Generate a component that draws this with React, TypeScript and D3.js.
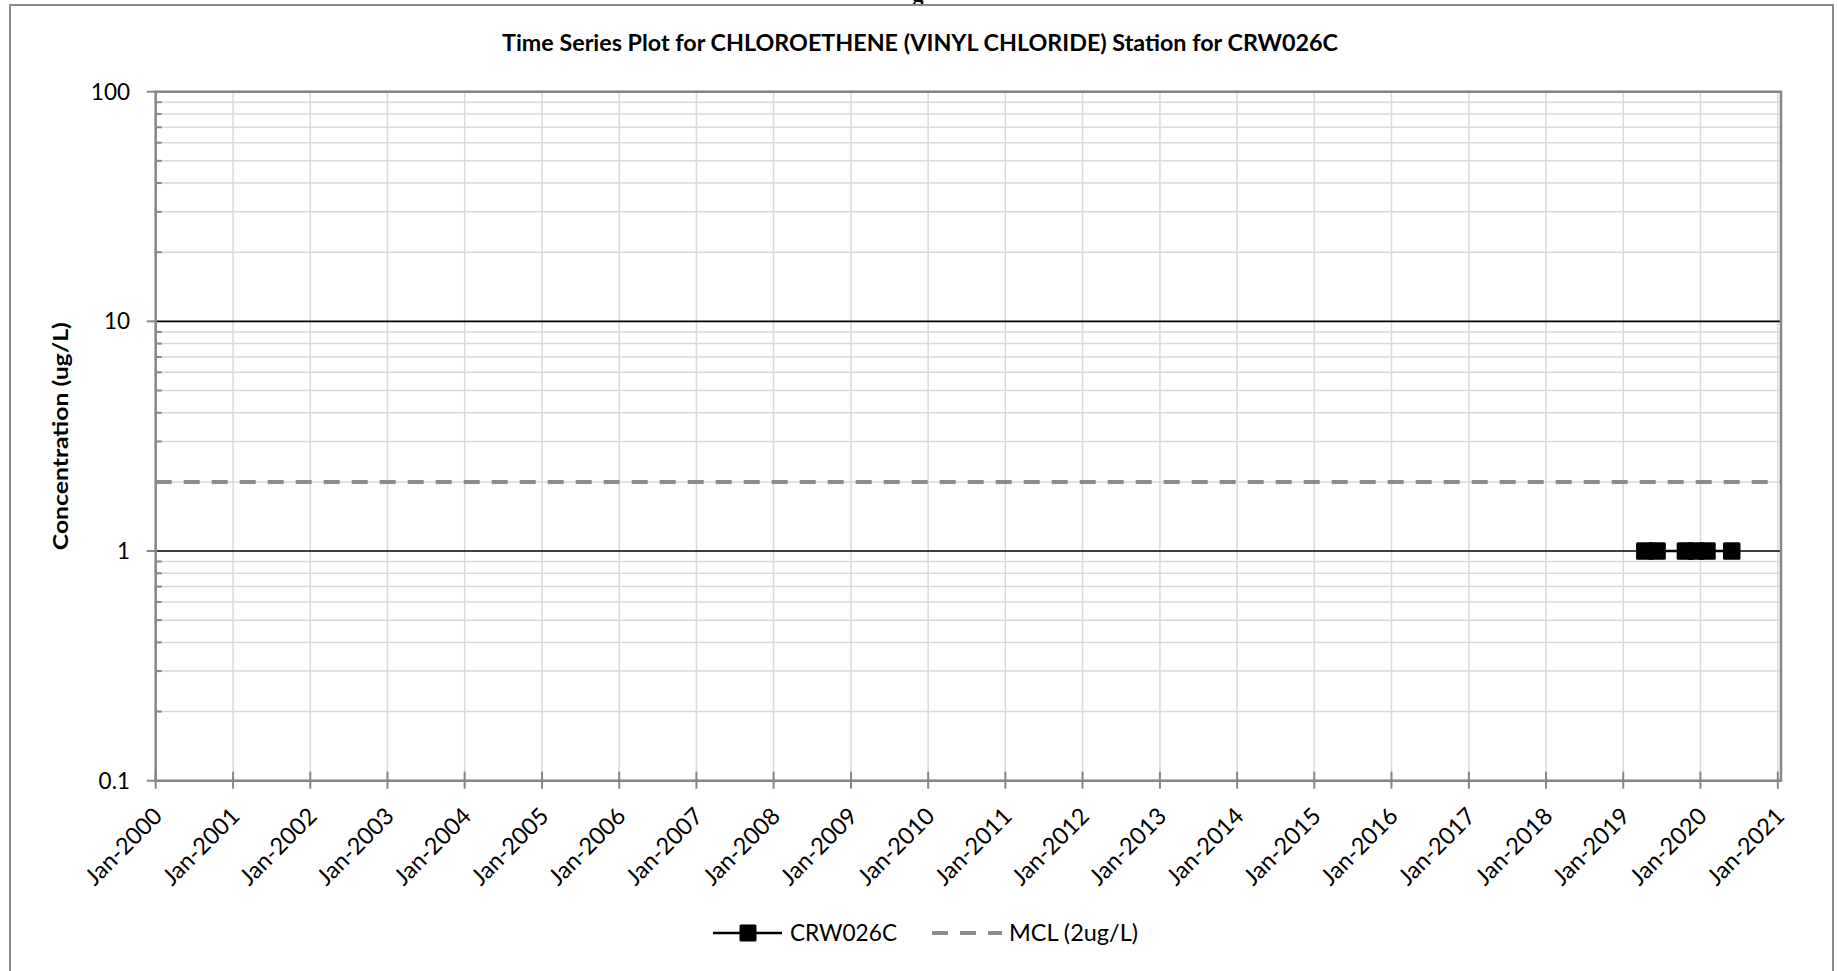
import React from "react";
import * as d3 from "d3";

const chartTitle = "Time Series Plot for CHLOROETHENE (VINYL CHLORIDE) Station for CRW026C";
const yAxisTitle = "Concentration (ug/L)";
const seriesName = "CRW026C";
const mclName = "MCL (2ug/L)";

const sampleDates = ["2019-04-13", "2019-06-10", "2019-10-22", "2019-12-10", "2020-02-01", "2020-05-28"];
const sampleValues = [1, 1, 1, 1, 1, 1];
const mclValue = 2;

const yMajorTicks = [0.1, 1, 10, 100];
const yTickLabels = ["0.1", "1", "10", "100"];
const xTickYears = [2000, 2001, 2002, 2003, 2004, 2005, 2006, 2007, 2008, 2009, 2010, 2011, 2012, 2013, 2014, 2015, 2016, 2017, 2018, 2019, 2020, 2021];
const xDomainDates = ["2000-01-01", "2021-01-16"];
const yDomain = [0.1, 100];

const W = 1837;
const H = 971;
const M = { left: 155.7, right: 1781, top: 91.7, bottom: 780.7 };
const FONT = "Lato, 'Open Sans', sans-serif";
const GRID = "#d9d9d9";
const AXIS = "#868686";
const MCL_COLOR = "#8c8c8c";

export default function App() {
  const parse = d3.utcParse("%Y-%m-%d");
  const fmt = d3.utcFormat("%b-%Y");
  const x = d3
    .scaleUtc()
    .domain([parse(xDomainDates[0])!, parse(xDomainDates[1])!])
    .range([M.left, M.right]);
  const y = d3.scaleLog().domain(yDomain).range([M.bottom, M.top]);

  const minorVals: number[] = [];
  yMajorTicks.slice(0, -1).forEach((d) => {
    for (let k = 2; k <= 9; k++) minorVals.push(d * k);
  });
  const xTicks = xTickYears.map((yr) => new Date(Date.UTC(yr, 0, 1)));

  const pts = sampleDates.map((d, i) => ({ d: parse(d)!, v: sampleValues[i] }));
  const line = d3
    .line<{ d: Date; v: number }>()
    .x((p) => x(p.d))
    .y((p) => y(p.v));

  const mk = 17.5;

  return (
    <svg
      width={W}
      height={H}
      style={{ position: "absolute", left: 0, top: 0, background: "#fff" }}
      fontFamily={FONT}
    >
      <rect x={0} y={0} width={W} height={H} fill="#fff" />
      <text x={918} y={1} fontFamily="'Liberation Serif', serif" fontWeight="bold" fontSize={22} textAnchor="middle">g</text>
      <rect x={10} y={5} width={1823} height={1000} fill="none" stroke="#8a8a8a" strokeWidth={2} />

      <text x={920} y={51} fontSize={22} fontWeight="bold" textAnchor="middle" textLength={836} lengthAdjust="spacingAndGlyphs">
        {chartTitle}
      </text>

      {/* vertical gridlines */}
      {xTicks.map((t, i) => (
        <line key={"vg" + i} x1={x(t)} x2={x(t)} y1={M.top} y2={M.bottom} stroke={GRID} strokeWidth={1.5} />
      ))}
      {/* minor horizontal gridlines */}
      {minorVals.map((v, i) => (
        <line key={"mg" + i} x1={M.left} x2={M.right} y1={y(v)} y2={y(v)} stroke={GRID} strokeWidth={1.5} />
      ))}
      {/* major horizontal gridlines */}
      {yMajorTicks.map((v, i) => (
        <line key={"Mg" + i} x1={M.left} x2={M.right} y1={y(v)} y2={y(v)} stroke="#000" strokeWidth={1.6} />
      ))}

      {/* MCL line */}
      <line
        x1={M.left}
        x2={M.right}
        y1={y(mclValue)}
        y2={y(mclValue)}
        stroke={MCL_COLOR}
        strokeWidth={4}
        strokeDasharray="16 12"
      />

      {/* plot border */}
      <rect x={M.left} y={M.top} width={M.right - M.left} height={M.bottom - M.top} fill="none" stroke={AXIS} strokeWidth={2.5} />

      {/* y ticks */}
      {yMajorTicks.map((v, i) => (
        <line key={"yt" + i} x1={M.left - 9} x2={M.left} y1={y(v)} y2={y(v)} stroke={AXIS} strokeWidth={2} />
      ))}
      {minorVals.map((v, i) => (
        <line key={"ymt" + i} x1={M.left} x2={M.left + 6} y1={y(v)} y2={y(v)} stroke={AXIS} strokeWidth={2} />
      ))}
      {yMajorTicks.map((v, i) => (
        <text key={"yl" + i} x={130} y={y(v)} dy="0.36em" fontSize={22.5} textAnchor="end">
          {yTickLabels[i]}
        </text>
      ))}

      {/* x ticks */}
      {xTicks.map((t, i) => (
        <line key={"xt" + i} x1={x(t)} x2={x(t)} y1={M.bottom - 9} y2={M.bottom + 8} stroke={AXIS} strokeWidth={2} />
      ))}
      {xTicks.map((t, i) => (
        <text
          key={"xl" + i}
          transform={`translate(${x(t) + 8},${M.bottom + 37}) rotate(-45)`}
          fontSize={23.5}
          textAnchor="end"
        >
          {fmt(t)}
        </text>
      ))}

      {/* y axis title */}
      <text
        transform={`translate(68,${(M.top + M.bottom) / 2}) rotate(-90)`}
        fontSize={20}
        fontWeight="bold"
        textAnchor="middle"
        textLength={228}
        lengthAdjust="spacingAndGlyphs"
      >
        {yAxisTitle}
      </text>

      {/* series */}
      <path d={line(pts) || ""} fill="none" stroke="#000" strokeWidth={2.5} />
      {pts.map((p, i) => (
        <rect key={"pt" + i} x={x(p.d) - mk / 2} y={y(p.v) - mk / 2} width={mk} height={mk} rx={1.5} fill="#000" />
      ))}

      {/* legend */}
      <line x1={713} x2={782} y1={933} y2={933} stroke="#000" strokeWidth={2.5} />
      <rect x={748 - 8.5} y={933 - 8.5} width={17} height={17} rx={1.5} fill="#000" />
      <text x={790} y={933} dy="0.36em" fontSize={22.5} textLength={107} lengthAdjust="spacingAndGlyphs">
        {seriesName}
      </text>
      <line x1={932} x2={1002} y1={933} y2={933} stroke={MCL_COLOR} strokeWidth={4} strokeDasharray="16 12" />
      <text x={1009} y={933} dy="0.36em" fontSize={22.5} textLength={129} lengthAdjust="spacingAndGlyphs">
        {mclName}
      </text>
    </svg>
  );
}
